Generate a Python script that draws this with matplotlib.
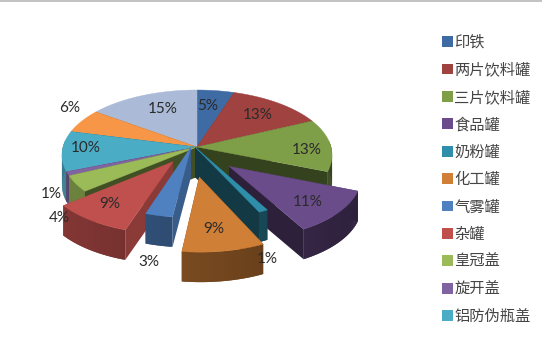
# -*- coding: utf8 -*-
import numpy as np
import matplotlib
matplotlib.use('Agg')
import matplotlib.pyplot as plt
from matplotlib.patches import Polygon, Patch

plt.rcParams['font.family'] = ['Noto Sans CJK SC', 'DejaVu Sans']

# legend only shows the first 11, the picture cuts off the other two
names = ['印铁', '两片饮料罐', '三片饮料罐', '食品罐', '奶粉罐', '化工罐', '气雾罐', '杂罐',
         '皇冠盖', '旋开盖', '铝防伪瓶盖']
values = [5, 13, 13, 11, 1, 9, 3, 9, 4, 1, 10, 6, 15]
explode = [0, 0, 0, 0.33, 0, 0.42, 0, 0.27, 0, 0, 0, 0, 0]
shrink = [1, 1, 1, 0.95, 1, 0.93, 0.97, 0.94, 1, 1, 1, 1, 1]
shift_x = [0, 0, 0, -2, -2, -7, -6, -3, 0, 0, 0, 0, 0]
shift_y = [0, 0, 0, 5, 0, 2, 0, 0, 0, 0, 0, 0, 0]
face_dark = [0.42, 0.42, 0.42, 0.42, 0.4, 0.42, 0.72, 0.72, 0.42, 0.42, 0.42, 0.42, 0.42]
colors = ['#3f6ba5', '#a04240', '#7f9e48', '#6a4c8a', '#2f8ea9', '#d07f36', '#4f81c1',
          '#c0504d', '#9bbb59', '#8064a2', '#4bacc6', '#f79646', '#aabad7']

# label positions in pixels, Excel placed some of them by hand
label_x = [208, 258, 307, 308, 267, 214, 149, 110, 59, 51, 86, 70, 163]
label_y = [106, 115, 150, 202, 259, 229, 262, 204, 218, 194, 148, 108, 109]

cx, cy = 197, 147
rx, ry = 134, 64
persp = 0.123
depth = 30


def project(px, py):
    # py > 0 goes to the back of the pie
    k = 1 + persp * py
    return cx + rx * px / k, cy - ry * py / k


def shade(color, f):
    rgb = np.array(matplotlib.colors.to_rgb(color))
    return tuple(rgb * f)


fig = plt.figure(figsize=(5.42, 3.54), dpi=100)
ax = fig.add_axes([0, 0, 1, 1])
ax.set_xlim(0, 542)
ax.set_ylim(354, 0)
ax.axis('off')
ax.axhline(0.5, color='#b8b8b8', lw=1.2)

fracs = np.array(values) / sum(values)
ends = np.cumsum(fracs) * 2 * np.pi
starts = ends - fracs * 2 * np.pi

# back slices first, front ones paint over them
mids = (starts + ends) / 2
order = sorted(range(len(values)), key=lambda i: np.cos(mids[i]) - explode[i] * 0.5, reverse=True)

for z, i in enumerate(order):
    t = np.linspace(starts[i], ends[i], max(int(values[i] * 6), 8))
    ox = explode[i] * np.sin(mids[i])
    oy = explode[i] * np.cos(mids[i])
    x, y = project(ox + shrink[i] * np.sin(t), oy + shrink[i] * np.cos(t))
    x = x + shift_x[i]
    y = y + shift_y[i]
    x0, y0 = project(ox, oy)
    x0 = x0 + shift_x[i]
    y0 = y0 + shift_y[i]
    base = z * 10 + 2
    # the two cut faces
    for xe, ye in [(x[0], y[0]), (x[-1], y[-1])]:
        face = [(x0, y0), (xe, ye), (xe, ye + depth), (x0, y0 + depth)]
        ax.add_patch(Polygon(face, closed=True, fc=shade(colors[i], face_dark[i]), ec='none', zorder=base))
    # outer wall, darker towards the right. each piece overlaps the next one to hide the seams
    for j in range(len(t) - 1):
        if np.cos(t[j]) > 0.1:
            continue
        f = 0.72 - 0.3 * (np.sin(t[j]) + 1) / 2
        k = min(j + 2, len(t) - 1)
        wall = list(zip(x[j:k + 1], y[j:k + 1])) + list(zip(x[j:k + 1][::-1], y[j:k + 1][::-1] + depth))
        ax.add_patch(Polygon(wall, closed=True, fc=shade(colors[i], f), ec='none', zorder=base + 1))
    top = [(x0, y0)] + list(zip(x, y))
    ax.add_patch(Polygon(top, closed=True, fc=colors[i], ec=colors[i], lw=0.3, zorder=base + 2))

for v, lx, ly in zip(values, label_x, label_y):
    ax.text(lx, ly, '%d%%' % v, ha='center', va='center', fontsize=11, family='Lato',
            color='#2a2a2a', zorder=500)

handles = [Patch(fc=c, ec='none') for c in colors[:len(names)]]
ax.legend(handles, names, loc='upper left', bbox_to_anchor=(441.5 / 542, 1 - 34 / 354), frameon=False,
          prop={'size': 11}, labelcolor='#444444', labelspacing=0.68, handlelength=0.72,
          handleheight=0.72, handletextpad=0.12, borderpad=0, borderaxespad=0)

fig.savefig('out.png', dpi=100)
